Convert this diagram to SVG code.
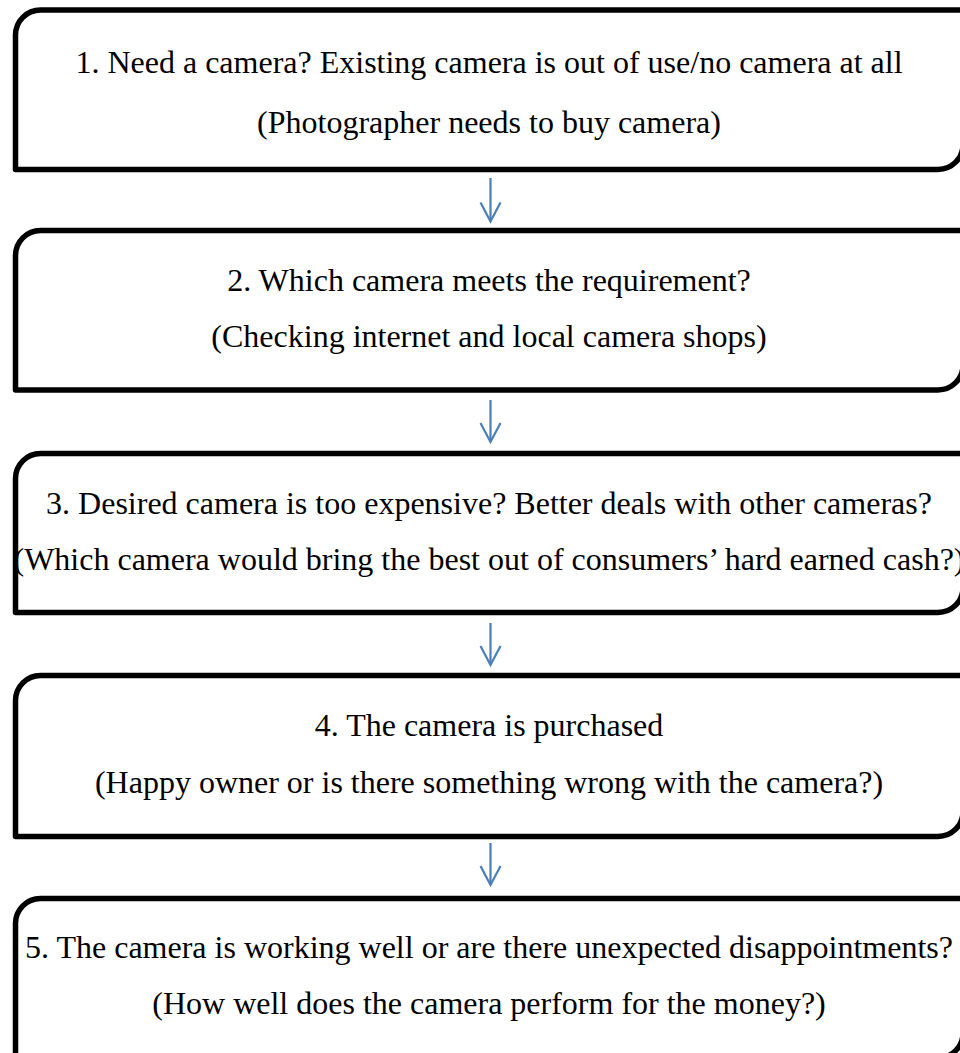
<svg xmlns="http://www.w3.org/2000/svg" width="960" height="1053" viewBox="0 0 960 1053">
  <style>
    .box { fill: #ffffff; stroke: #000000; stroke-width: 5.5; stroke-linejoin: round; }
    .label { font-family: "Liberation Serif", "Times New Roman", serif; font-size: 32px; fill: #000000; text-anchor: middle; }
    .link { stroke: #4a7ebb; stroke-width: 2.2; fill: none; }
  </style>
  <defs>
    <!-- open chevron arrowhead -->
    <marker id="chevron" viewBox="0 0 19 20" refX="19" refY="10" markerWidth="19" markerHeight="20" markerUnits="userSpaceOnUse" orient="auto" overflow="visible">
      <path d="M0,0 L19,10 L0,20" fill="none" stroke="#4a7ebb" stroke-width="2.2" stroke-linejoin="miter"/>
    </marker>
  </defs>
  <rect width="960" height="1053" fill="#ffffff"/>

  <!-- steps: rounded top-left and bottom-right corners -->
  <g id="step1">
    <path class="box" d="M15.5,35 A25,25 0 0 1 40.5,10 L963,10 L963,144.5 A25,25 0 0 1 938,169.5 L15.5,169.5 Z"/>
    <text class="label" x="489" y="73">1. Need a camera? Existing camera is out of use/no camera at all</text>
    <text class="label" x="489" y="133">(Photographer needs to buy camera)</text>
  </g>
  <g id="step2">
    <path class="box" d="M15.5,255.5 A25,25 0 0 1 40.5,230.5 L963,230.5 L963,365 A25,25 0 0 1 938,390 L15.5,390 Z"/>
    <text class="label" x="489" y="291">2. Which camera meets the requirement?</text>
    <text class="label" x="489" y="347">(Checking internet and local camera shops)</text>
  </g>
  <g id="step3">
    <path class="box" d="M15.5,478.5 A25,25 0 0 1 40.5,453.5 L963,453.5 L963,587.5 A25,25 0 0 1 938,612.5 L15.5,612.5 Z"/>
    <text class="label" x="489" y="514">3. Desired camera is too expensive? Better deals with other cameras?</text>
    <text class="label" x="489" y="570">(Which camera would bring the best out of consumers’ hard earned cash?)</text>
  </g>
  <g id="step4">
    <path class="box" d="M15.5,700.5 A25,25 0 0 1 40.5,675.5 L963,675.5 L963,811.5 A25,25 0 0 1 938,836.5 L15.5,836.5 Z"/>
    <text class="label" x="489" y="736">4. The camera is purchased</text>
    <text class="label" x="489" y="793">(Happy owner or is there something wrong with the camera?)</text>
  </g>
  <g id="step5">
    <path class="box" d="M15.5,923.5 A25,25 0 0 1 40.5,898.5 L963,898.5 L963,1033 A25,25 0 0 1 938,1058 L15.5,1058 Z"/>
    <text class="label" x="489" y="958">5. The camera is working well or are there unexpected disappointments?</text>
    <text class="label" x="489" y="1014">(How well does the camera perform for the money?)</text>
  </g>

  <!-- connectors -->
  <g id="connectors">
    <line class="link" x1="490.5" y1="178" x2="490.5" y2="221.5" marker-end="url(#chevron)"/>
    <line class="link" x1="490.5" y1="400" x2="490.5" y2="442" marker-end="url(#chevron)"/>
    <line class="link" x1="490.5" y1="623" x2="490.5" y2="665" marker-end="url(#chevron)"/>
    <line class="link" x1="490.5" y1="843" x2="490.5" y2="885" marker-end="url(#chevron)"/>
  </g>
</svg>
